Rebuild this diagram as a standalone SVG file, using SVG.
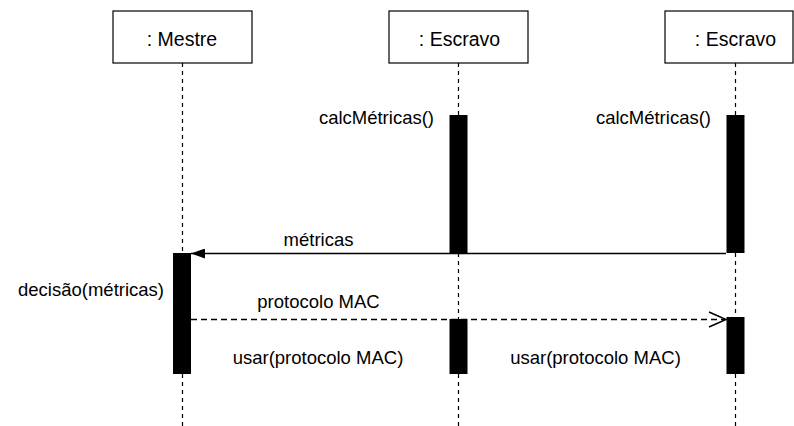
<svg xmlns="http://www.w3.org/2000/svg" width="794" height="426" viewBox="0 0 794 426">
  <style>
    .box { fill: #ffffff; stroke: #000000; stroke-width: 1.2; }
    .life { stroke: #000000; stroke-width: 1.2; stroke-dasharray: 4 4; fill: none; }
    .act { fill: #000000; }
    .msg { stroke: #000000; stroke-width: 1.5; fill: none; }
    .ret { stroke: #000000; stroke-width: 1.5; stroke-dasharray: 6 4; fill: none; }
    text { font-family: "Liberation Sans", Arial, Helvetica, sans-serif; font-size: 18.5px; fill: #000000; }
    .title { font-size: 19.5px; }
    .c { text-anchor: middle; }
    .r { text-anchor: end; }
  </style>
  <defs>
    <marker id="filled" markerWidth="14" markerHeight="10" refX="14" refY="5" orient="auto" markerUnits="userSpaceOnUse">
      <path d="M14,5 L0,0 L0,10 Z" fill="#000000"/>
    </marker>
  </defs>

  <!-- lifelines -->
  <g id="lifelines">
    <line class="life" x1="182.5" y1="63" x2="182.5" y2="253"/>
    <line class="life" x1="182.5" y1="374" x2="182.5" y2="426"/>
    <line class="life" x1="458.5" y1="63" x2="458.5" y2="115"/>
    <line class="life" x1="458.5" y1="253" x2="458.5" y2="319"/>
    <line class="life" x1="458.5" y1="374" x2="458.5" y2="426"/>
    <line class="life" x1="735.5" y1="63" x2="735.5" y2="115"/>
    <line class="life" x1="735.5" y1="253" x2="735.5" y2="317"/>
    <line class="life" x1="735.5" y1="374" x2="735.5" y2="426"/>
  </g>

  <g id="mestre">
    <rect class="box" x="113" y="11" width="139" height="52"/>
    <text class="c title" x="182" y="46">: Mestre</text>
    <rect class="act" x="173" y="253" width="18" height="121"/>
    <text class="r" x="164" y="296">decisão(métricas)</text>
  </g>

  <g id="escravo1">
    <rect class="box" x="389" y="11" width="139" height="52"/>
    <text class="c title" x="459.5" y="46">: Escravo</text>
    <rect class="act" x="449.5" y="115" width="18" height="138"/>
    <rect class="act" x="449.5" y="319" width="18" height="55"/>
    <text class="r" x="434" y="124">calcMétricas()</text>
  </g>

  <g id="escravo2">
    <rect class="box" x="665" y="11" width="128" height="52"/>
    <text class="c title" x="735.5" y="46">: Escravo</text>
    <rect class="act" x="726.5" y="115" width="18" height="138"/>
    <rect class="act" x="726.5" y="317" width="18" height="57"/>
    <text class="r" x="711" y="124">calcMétricas()</text>
  </g>

  <!-- messages -->
  <g id="connectors">
    <line class="msg" x1="726" y1="253.5" x2="191" y2="253.5" marker-end="url(#filled)"/>
    <text class="c" x="318.5" y="246">métricas</text>
    <line class="ret" x1="191" y1="319.5" x2="725" y2="319.5"/>
    <polyline class="msg" points="709,312 726,319.5 709,327"/>
    <text class="c" x="318.5" y="308">protocolo MAC</text>
    <text class="c" x="318" y="364">usar(protocolo MAC)</text>
    <text class="c" x="595.5" y="364">usar(protocolo MAC)</text>
  </g>
</svg>
